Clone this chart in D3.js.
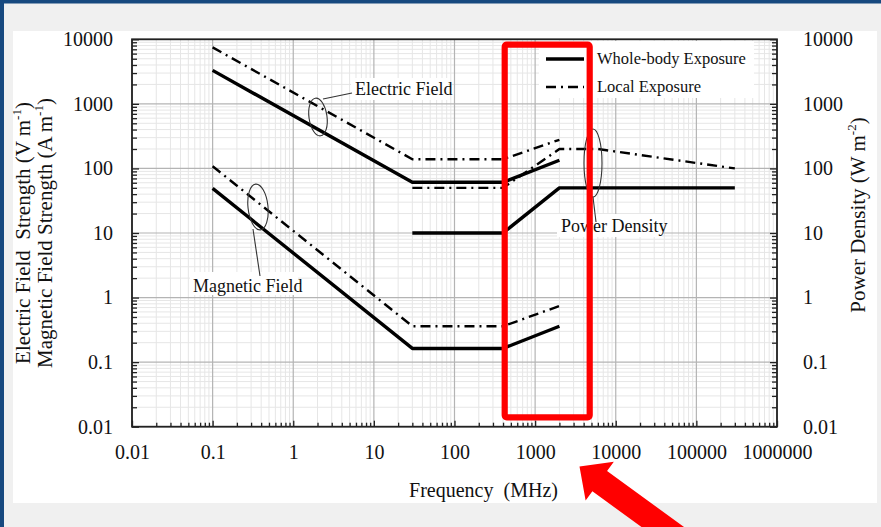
<!DOCTYPE html>
<html>
<head>
<meta charset="utf-8">
<script src="https://cdn.jsdelivr.net/npm/d3@7/dist/d3.min.js"></script>
<style>
  html, body { margin: 0; padding: 0; background: #f0f0f0; }
  svg { display: block; }
  text { font-family: "Liberation Serif", "Times New Roman", serif; fill: #111; }
</style>
</head>
<body>
<script>
// ---- data ----
const xTicks = [0.01, 0.1, 1, 10, 100, 1000, 10000, 100000, 1000000];
const yTicks = [0.01, 0.1, 1, 10, 100, 1000, 10000];

const freqEH = [0.1, 30, 400, 2000];            // MHz
const eWhole = [3300, 61, 61, 134];             // V/m
const eLocal = [7500, 139, 139, 278];
const hWhole = [49, 0.163, 0.163, 0.36];        // A/m
const hLocal = [108, 0.36, 0.36, 0.74];

const freqSWhole = [30, 400, 2000, 300000];
const sWhole = [10, 10, 50, 50];                // W/m2
const freqSLocal = [30, 400, 2000, 6000, 300000];
const sLocal = [50, 50, 200, 200, 100];

const legendLabels = ["Whole-body Exposure", "Local Exposure"];

window.onload = draw;

function draw() {
    const W = 881, H = 527;
    const plot = {left: 132, right: 777, top: 39.3, bottom: 426.7};

    const svg = d3.select("body").append("svg")
        .attr("width", W)
        .attr("height", H);

    // page frame: grey page, blue edge, white panel
    svg.append("rect").attr("width", W).attr("height", H).attr("fill", "#f0f0f0");
    svg.append("rect").attr("x", 0).attr("y", 0).attr("width", W).attr("height", 3.5).attr("fill", "#17497f");
    svg.append("rect").attr("x", 0).attr("y", 0).attr("width", 4).attr("height", H).attr("fill", "#17497f");
    svg.append("rect").attr("x", 13).attr("y", 31).attr("width", 864).attr("height", 472).attr("fill", "#ffffff");

    const x = d3.scaleLog().domain([0.01, 1000000]).range([plot.left, plot.right]);
    const y = d3.scaleLog().domain([0.01, 10000]).range([plot.bottom, plot.top]);

    // minor positions 2..9 within each decade
    const minorX = [];
    xTicks.slice(0, -1).forEach(d => { for (let k = 2; k <= 9; k++) minorX.push(d * k); });
    const minorY = [];
    yTicks.slice(0, -1).forEach(d => { for (let k = 2; k <= 9; k++) minorY.push(d * k); });

    // gridlines
    const grid = svg.append("g");
    grid.selectAll(".mx").data(minorX).enter().append("line")
        .attr("x1", d => x(d)).attr("x2", d => x(d))
        .attr("y1", plot.top).attr("y2", plot.bottom)
        .attr("stroke", "#e6e6e6").attr("stroke-width", 1);
    grid.selectAll(".my").data(minorY).enter().append("line")
        .attr("y1", d => y(d)).attr("y2", d => y(d))
        .attr("x1", plot.left).attr("x2", plot.right)
        .attr("stroke", "#e6e6e6").attr("stroke-width", 1);
    grid.selectAll(".Mx").data(xTicks).enter().append("line")
        .attr("x1", d => x(d)).attr("x2", d => x(d))
        .attr("y1", plot.top).attr("y2", plot.bottom)
        .attr("stroke", "#b4b4b4").attr("stroke-width", 1.2);
    grid.selectAll(".My").data(yTicks).enter().append("line")
        .attr("y1", d => y(d)).attr("y2", d => y(d))
        .attr("x1", plot.left).attr("x2", plot.right)
        .attr("stroke", "#b4b4b4").attr("stroke-width", 1.2);

    // white patches behind legend and labels
    svg.append("rect").attr("x", 539).attr("y", 41).attr("width", 215).attr("height", 57).attr("fill", "#fff");
    const labelBg = [[351, 78, 97, 22], [190, 272, 108, 23], [557, 214, 105, 23]];
    svg.selectAll(".lbg").data(labelBg).enter().append("rect")
        .attr("x", d => d[0]).attr("y", d => d[1]).attr("width", d => d[2]).attr("height", d => d[3])
        .attr("fill", "#fff");

    // limit lines
    const line = d3.line().x(d => x(d[0])).y(d => y(d[1]));
    const dash = "10,5,2,5";
    const series = [
        {f: freqEH, v: eWhole, local: false},
        {f: freqEH, v: eLocal, local: true},
        {f: freqEH, v: hWhole, local: false},
        {f: freqEH, v: hLocal, local: true},
        {f: freqSWhole, v: sWhole, local: false},
        {f: freqSLocal, v: sLocal, local: true}
    ];
    svg.selectAll(".lim").data(series).enter().append("path")
        .attr("d", s => line(s.f.map((f, i) => [f, s.v[i]])))
        .attr("fill", "none")
        .attr("stroke", "#000")
        .attr("stroke-width", s => s.local ? 2.4 : 3.4)
        .attr("stroke-dasharray", s => s.local ? dash : null)
        .attr("stroke-linejoin", "round");

    // annotation loops and leaders
    const loops = [
        {cx: 318, cy: 117, rx: 9, ry: 19, rot: -8},
        {cx: 258, cy: 207, rx: 10, ry: 23, rot: -6},
        {cx: 593, cy: 163, rx: 9, ry: 34, rot: 0}
    ];
    svg.selectAll(".loop").data(loops).enter().append("ellipse")
        .attr("cx", d => d.cx).attr("cy", d => d.cy)
        .attr("rx", d => d.rx).attr("ry", d => d.ry)
        .attr("transform", d => `rotate(${d.rot},${d.cx},${d.cy})`)
        .attr("fill", "none").attr("stroke", "#333").attr("stroke-width", 1.1);
    const leaders = [[323, 99, 352, 93], [253, 229, 260, 276], [593, 197, 596, 222]];
    svg.selectAll(".lead").data(leaders).enter().append("line")
        .attr("x1", d => d[0]).attr("y1", d => d[1]).attr("x2", d => d[2]).attr("y2", d => d[3])
        .attr("stroke", "#333").attr("stroke-width", 1.1);
    const notes = [["Electric Field", 355, 95], ["Magnetic Field", 193, 292], ["Power Density", 561, 232]];
    svg.selectAll(".note").data(notes).enter().append("text")
        .attr("x", d => d[1]).attr("y", d => d[2])
        .attr("font-size", 18)
        .text(d => d[0]);

    // legend
    const leg = svg.append("g").attr("transform", "translate(546,0)");
    leg.selectAll("line").data(legendLabels).enter().append("line")
        .attr("x1", 0).attr("x2", 38)
        .attr("y1", (d, i) => 59 + i * 28).attr("y2", (d, i) => 59 + i * 28)
        .attr("stroke", "#000")
        .attr("stroke-width", (d, i) => i ? 2.4 : 3.4)
        .attr("stroke-dasharray", (d, i) => i ? dash : null);
    leg.selectAll("text").data(legendLabels).enter().append("text")
        .attr("x", 51).attr("y", (d, i) => 64 + i * 28)
        .attr("font-size", 16.5)
        .text(d => d);

    // plot frame
    svg.append("rect")
        .attr("x", plot.left).attr("y", plot.top)
        .attr("width", plot.right - plot.left).attr("height", plot.bottom - plot.top)
        .attr("fill", "none").attr("stroke", "#222").attr("stroke-width", 1.8);

    // axes
    const fmt = d => String(d);
    function styleAxis(g) {
        g.select(".domain").remove();
        g.selectAll("line").attr("stroke", "#222").attr("stroke-width", 1.3);
        g.selectAll("text").attr("font-size", 20).attr("fill", "#111")
            .attr("font-family", '"Liberation Serif", "Times New Roman", serif');
    }
    svg.append("g").attr("transform", `translate(0,${plot.bottom})`)
        .call(d3.axisBottom(x).tickValues(minorX).tickFormat("").tickSize(-4).tickSizeOuter(0)).call(styleAxis);
    svg.append("g").attr("transform", `translate(0,${plot.bottom})`)
        .call(d3.axisBottom(x).tickValues(xTicks).tickFormat(fmt).tickSize(-6).tickSizeOuter(0).tickPadding(18)).call(styleAxis);

    svg.append("g").attr("transform", `translate(${plot.left},0)`)
        .call(d3.axisLeft(y).tickValues(minorY).tickFormat("").tickSize(-5).tickSizeOuter(0)).call(styleAxis);
    svg.append("g").attr("transform", `translate(${plot.left},0)`)
        .call(d3.axisLeft(y).tickValues(yTicks).tickFormat(fmt).tickSize(-7).tickSizeOuter(0).tickPadding(19)).call(styleAxis);

    svg.append("g").attr("transform", `translate(${plot.right},0)`)
        .call(d3.axisRight(y).tickValues(minorY).tickFormat("").tickSize(-5).tickSizeOuter(0)).call(styleAxis);
    svg.append("g").attr("transform", `translate(${plot.right},0)`)
        .call(d3.axisRight(y).tickValues(yTicks).tickFormat(fmt).tickSize(-7).tickSizeOuter(0).tickPadding(26)).call(styleAxis);

    // axis titles
    svg.append("text")
        .attr("x", (plot.left + plot.right) / 2 + 29).attr("y", 497)
        .attr("text-anchor", "middle").attr("font-size", 20)
        .attr("xml:space", "preserve")
        .text("Frequency  (MHz)");

    function supTitle(tx, ty, main, sup, size) {
        const t = svg.append("text")
            .attr("transform", `translate(${tx},${ty}) rotate(-90)`)
            .attr("text-anchor", "middle").attr("font-size", size)
            .attr("xml:space", "preserve");
        t.append("tspan").text(main);
        t.append("tspan").attr("font-size", size * 0.62).attr("dy", -size * 0.42).text(sup);
        t.append("tspan").attr("dy", size * 0.42).text(")");
    }
    supTitle(30, 233, "Electric Field  Strength (V m", "-1", 21);
    supTitle(52, 233, "Magnetic Field Strength (A m", "-1", 21);
    supTitle(865, 215, "Power Density (W m", "-2", 21);

    // red highlight box and arrow
    svg.append("rect")
        .attr("x", 504.7).attr("y", 44.7).attr("width", 85).attr("height", 372.6)
        .attr("rx", 2)
        .attr("fill", "none").attr("stroke", "#ff0000").attr("stroke-width", 6.2);

    const tip = [579.5, 466.5];
    const ang = 36 * Math.PI / 180;
    const u = [Math.cos(ang), Math.sin(ang)], n = [-Math.sin(ang), Math.cos(ang)];
    const headL = 25, headW = 24, shaftW = 12.5, shaftL = 140;
    const pt = (t, s) => [tip[0] + t * u[0] + s * n[0], tip[1] + t * u[1] + s * n[1]];
    const arrow = [pt(0, 0), pt(headL, headW), pt(headL, shaftW), pt(headL + shaftL, shaftW),
                   pt(headL + shaftL, -shaftW), pt(headL, -shaftW), pt(headL, -headW)];
    svg.append("polygon")
        .attr("points", arrow.map(p => p.join(",")).join(" "))
        .attr("fill", "#ff0000");
}
</script>
</body>
</html>
